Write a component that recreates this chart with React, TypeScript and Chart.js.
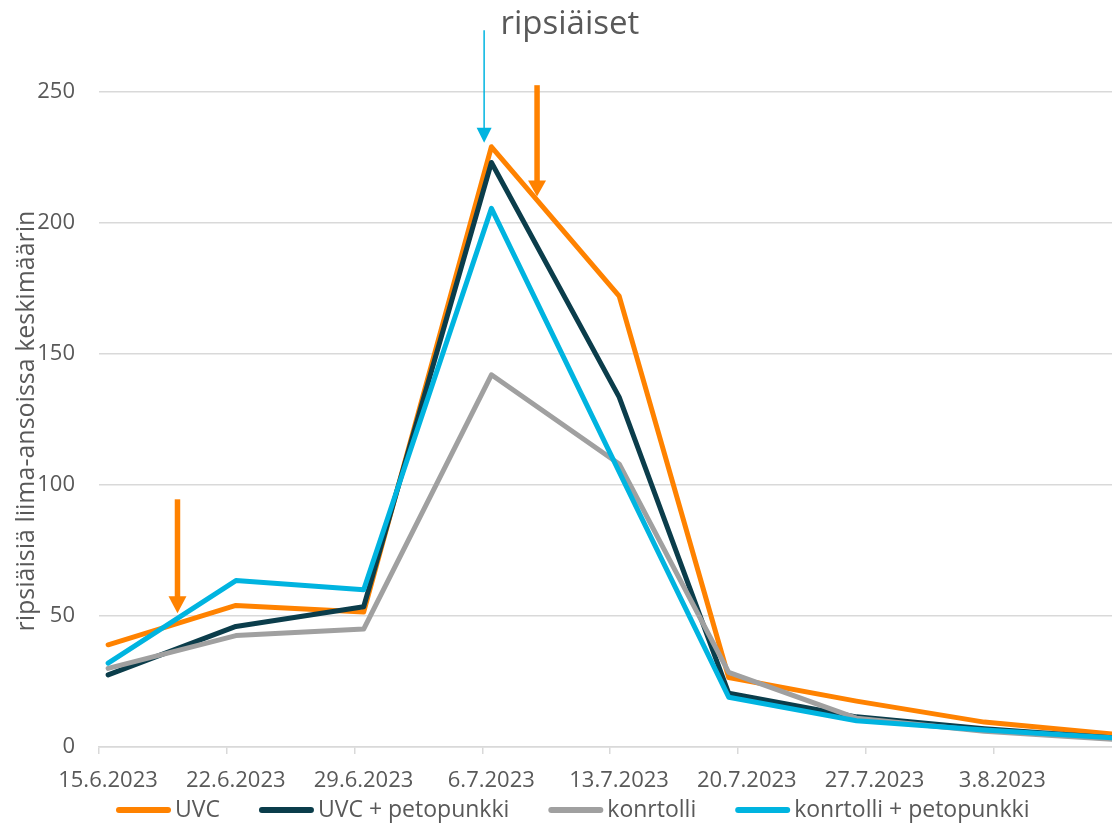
import React, { useEffect, useRef } from 'react';
import { Chart, registerables } from 'chart.js';

Chart.register(...registerables);

// ---------- data ----------
const sampleDates = ['15.6.2023', '22.6.2023', '29.6.2023', '6.7.2023', '13.7.2023', '19.7.2023', '26.7.2023', '2.8.2023', '9.8.2023'];
const tickLabels = ['15.6.2023', '22.6.2023', '29.6.2023', '6.7.2023', '13.7.2023', '20.7.2023', '27.7.2023', '3.8.2023'];
const seriesNames = ['UVC', 'UVC + petopunkki', 'konrtolli', 'konrtolli + petopunkki'];
const uvc = [39, 54, 51.5, 229, 172, 26.5, 17.5, 9.5, 5];
const uvcPeto = [27.5, 46, 53.5, 223, 133.5, 20.5, 11.5, 7, 3.5];
const kontrolli = [30, 42.5, 45, 142, 108, 28.5, 11, 6, 3];
const kontrolliPeto = [32, 63.5, 60, 205.5, 105, 19, 10, 6.5, 3.5];
const yTickValues = [0, 50, 100, 150, 200, 250];
const yTitle = 'ripsiäisiä liima-ansoissa keskimäärin';
const noteText = 'ripsiäiset';

const seriesValues = [uvc, uvcPeto, kontrolli, kontrolliPeto];
const seriesColors = ['#FF8200', '#0B3D4B', '#A0A0A0', '#00B4E0'];

const TEXT = '#595959';
const GRID = '#D9D9D9';
const FONT = '"Open Sans", sans-serif';

function dayIndex(s: string): number {
  const [d, m, y] = s.split('.').map(Number);
  const [d0, m0, y0] = sampleDates[0].split('.').map(Number);
  return Math.round((Date.UTC(y, m - 1, d) - Date.UTC(y0, m0 - 1, d0)) / 86400000);
}

// annotation arrows, in data coordinates (day index, value)
const arrows = [
  { day: 20.6, from: 273.5, to: 230.5, color: '#00B4E0', shaft: 1.5, headW: 15, headLen: 15 },
  { day: 23.5, from: 252.5, to: 210, color: '#FF8200', shaft: 5.5, headW: 18, headLen: 16 },
  { day: 3.8, from: 94.5, to: 51, color: '#FF8200', shaft: 5.5, headW: 18, headLen: 17 },
];
const note = { day: 25.3, value: 272 };

const extrasPlugin = {
  id: 'extras',
  afterDraw(chart: any) {
    const { ctx, scales } = chart;
    const x = scales.x;
    const y = scales.y;
    ctx.save();

    // arrows
    arrows.forEach((a) => {
      const px = x.getPixelForValue(a.day);
      const y0 = y.getPixelForValue(a.from);
      const y1 = y.getPixelForValue(a.to);
      ctx.strokeStyle = a.color;
      ctx.lineWidth = a.shaft;
      ctx.lineCap = 'butt';
      ctx.beginPath();
      ctx.moveTo(px, y0);
      ctx.lineTo(px, y1 - a.headLen + 1);
      ctx.stroke();
      ctx.fillStyle = a.color;
      ctx.beginPath();
      ctx.moveTo(px - a.headW / 2, y1 - a.headLen);
      ctx.lineTo(px + a.headW / 2, y1 - a.headLen);
      ctx.lineTo(px, y1);
      ctx.closePath();
      ctx.fill();
    });

    // note text
    ctx.fillStyle = TEXT;
    ctx.font = `33px ${FONT}`;
    ctx.textAlign = 'center';
    ctx.textBaseline = 'alphabetic';
    ctx.fillText(noteText, x.getPixelForValue(note.day), y.getPixelForValue(note.value));

    // y axis title
    ctx.save();
    ctx.translate(27, 421);
    ctx.rotate(-Math.PI / 2);
    ctx.font = `25px ${FONT}`;
    ctx.textAlign = 'center';
    ctx.textBaseline = 'middle';
    ctx.fillStyle = TEXT;
    ctx.fillText(yTitle, 0, 0);
    ctx.restore();

    // legend
    ctx.font = `23px ${FONT}`;
    ctx.textAlign = 'left';
    ctx.textBaseline = 'middle';
    const yc = 810;
    let cx = 116;
    chart.data.datasets.forEach((ds: any) => {
      ctx.strokeStyle = ds.borderColor;
      ctx.lineWidth = 6;
      ctx.lineCap = 'round';
      ctx.beginPath();
      ctx.moveTo(cx + 3, yc);
      ctx.lineTo(cx + 52, yc);
      ctx.stroke();
      ctx.fillStyle = TEXT;
      ctx.fillText(ds.label, cx + 59, yc);
      cx += 59 + ctx.measureText(ds.label).width + 39;
    });

    ctx.restore();
  },
};

export default function App() {
  const canvasRef = useRef<HTMLCanvasElement | null>(null);

  useEffect(() => {
    document.body.style.margin = '0';
    const canvas = canvasRef.current;
    if (!canvas) return;

    const xs = sampleDates.map(dayIndex);
    const lastDay = xs[xs.length - 1];
    const tickPositions = tickLabels.map((t) => dayIndex(t) - 0.5);

    const chart = new Chart(canvas, {
      type: 'line',
      data: {
        datasets: seriesNames.map((name, i) => ({
          label: name,
          data: seriesValues[i].map((v, j) => ({ x: xs[j], y: v })),
          borderColor: seriesColors[i],
          backgroundColor: seriesColors[i],
          borderWidth: 5,
          borderJoinStyle: 'round',
          borderCapStyle: 'round',
          pointRadius: 0,
          tension: 0,
          order: seriesNames.length - i,
        })),
      },
      options: {
        animation: false,
        responsive: false,
        maintainAspectRatio: false,
        layout: { padding: 0 },
        plugins: {
          legend: { display: false },
          tooltip: { enabled: false },
          title: { display: false },
        },
        scales: {
          x: {
            type: 'linear',
            min: -0.5,
            max: lastDay,
            afterBuildTicks: (scale: any) => {
              scale.ticks = tickPositions.map((v) => ({ value: v }));
            },
            afterFit: (scale: any) => {
              scale.height = 79;
              scale.paddingLeft = 0;
              scale.paddingRight = 0;
            },
            grid: {
              drawOnChartArea: false,
              drawTicks: true,
              tickLength: 7,
              color: GRID,
              lineWidth: 1.5,
            },
            border: { display: true, color: GRID, width: 1.5 },
            ticks: {
              autoSkip: false,
              maxRotation: 0,
              labelOffset: 9,
              padding: 14,
              color: TEXT,
              font: { family: FONT, size: 22 },
              callback: (value: any) => {
                const idx = Math.round((Number(value) + 0.5 - dayIndex(tickLabels[0])) / 7);
                return tickLabels[idx] ?? '';
              },
            },
          },
          y: {
            type: 'linear',
            min: 0,
            max: 285,
            afterBuildTicks: (scale: any) => {
              scale.ticks = yTickValues.map((v) => ({ value: v }));
            },
            afterFit: (scale: any) => {
              scale.width = 99;
              scale.paddingTop = 0;
              scale.paddingBottom = 0;
            },
            grid: {
              drawTicks: false,
              tickLength: 0,
              color: GRID,
              lineWidth: 1.5,
            },
            border: { display: false },
            ticks: {
              padding: 24,
              color: TEXT,
              font: { family: FONT, size: 22 },
            },
          },
        },
      },
      plugins: [extrasPlugin],
    } as any);

    return () => chart.destroy();
  }, []);

  return (
    <div style={{ width: 1112, height: 826, position: 'relative' }}>
      <canvas ref={canvasRef} width={1112} height={826} />
    </div>
  );
}
